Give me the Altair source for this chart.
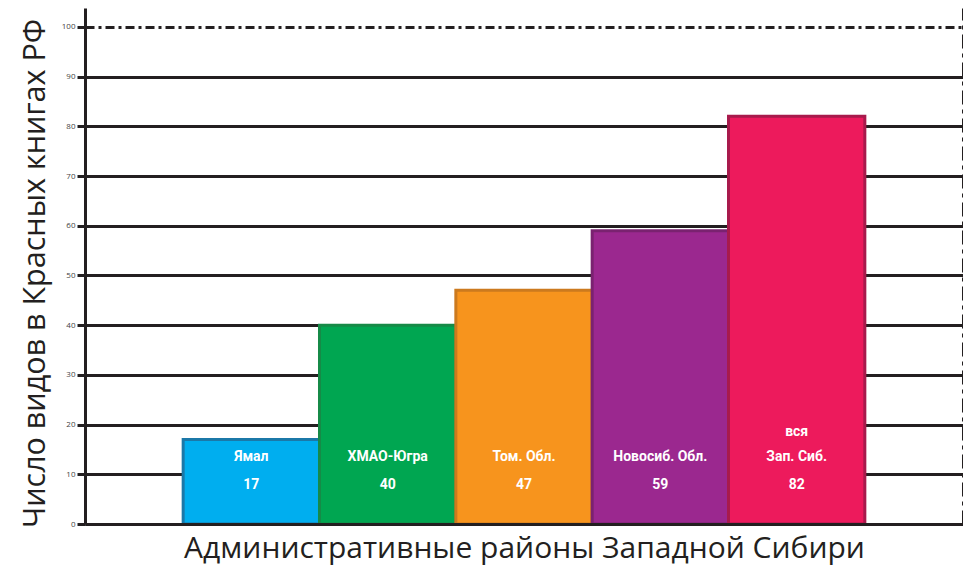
import altair as alt
import pandas as pd

regions = ["Ямал", "ХМАО-Югра", "Том. Обл.", "Новосиб. Обл.", "вся Зап. Сиб."]
name_line1 = ["", "", "", "", "вся"]
name_line2 = ["Ямал", "ХМАО-Югра", "Том. Обл.", "Новосиб. Обл.", "Зап. Сиб."]
counts = [17, 40, 47, 59, 82]
fills = ["#00AEEF", "#00A651", "#F7941D", "#9B288F", "#ED1A5C"]
strokes = ["#1B78A8", "#168A47", "#CC7A1E", "#7A2270", "#A81A4C"]
y_ticks = [0, 10, 20, 30, 40, 50, 60, 70, 80, 90, 100]

df = pd.DataFrame({"region": regions, "count": counts, "l1": name_line1, "l2": name_line2})

ink = "#231F20"
yscale = alt.Scale(domain=[0, 103.8], nice=False, zero=True)
xenc = alt.X(
    "region:N",
    sort=regions,
    scale=alt.Scale(paddingInner=0, paddingOuter=0.72),
    axis=alt.Axis(
        title="Административные районы Западной Сибири",
        labels=False, ticks=False, domain=True, domainColor=ink, domainWidth=3,
        zindex=1, titleFontSize=30, titleFont="Open Sans", titleFontWeight="normal",
        titleColor=ink, titlePadding=9,
    ),
)

bars = alt.Chart(df).mark_bar(strokeWidth=3).encode(
    x=xenc,
    y=alt.Y(
        "count:Q", scale=yscale,
        axis=alt.Axis(
            orient="left", values=y_ticks, title="Число видов в Красных книгах РФ",
            titleFontSize=30.5, titleFont="Open Sans", titleFontWeight="normal", titleColor=ink,
            titlePadding=11, titleY=265,
            labelFontSize=8, labelColor="#444444", labelFont="Open Sans", labelPadding=2,
            tickSize=8, tickWidth=3, tickColor=ink,
            domainColor=ink, domainWidth=3,
            grid=True, gridColor=ink, gridWidth=3, gridOpacity=1,
            gridDash={"condition": {"test": "datum.value == 100", "value": [9, 4, 3, 4]}, "value": []},
        ),
    ),
    color=alt.Color("region:N", sort=regions, scale=alt.Scale(domain=regions, range=fills), legend=None),
    stroke=alt.Stroke("region:N", sort=regions, scale=alt.Scale(domain=regions, range=strokes), legend=None),
)

def label_layer(field, dy):
    return alt.Chart(df).mark_text(
        color="white", fontSize=14, font="Roboto", fontWeight="bold",
        baseline="middle", dy=dy,
    ).encode(
        x=alt.X("region:N", sort=regions),
        y=alt.YDatum(0, axis=None),
        text=alt.Text(field),
    )

val_labels = label_layer("count:Q", -39)
name_labels = label_layer("l2:N", -67)
top_labels = label_layer("l1:N", -92)

right = alt.Chart(df).mark_tick(opacity=0).encode(
    x=alt.X("region:N", sort=regions),
    y=alt.Y(
        "count:Q", scale=yscale,
        axis=alt.Axis(
            orient="right", title=None, labels=False, ticks=False, grid=False,
            domainColor=ink, domainWidth=3, domainDash=[14, 5, 4, 5],
        ),
    ),
)

chart = alt.layer(bars, val_labels, name_labels, top_labels, right).resolve_axis(y="independent").properties(
    width=878, height=516,
    autosize=alt.AutoSizeParams(type="none"),
    padding={"left": 77, "top": 0, "right": 0, "bottom": 45},
).configure_view(stroke=None)

chart.save("out.html", embed_options={"renderer": "svg", "actions": False})
